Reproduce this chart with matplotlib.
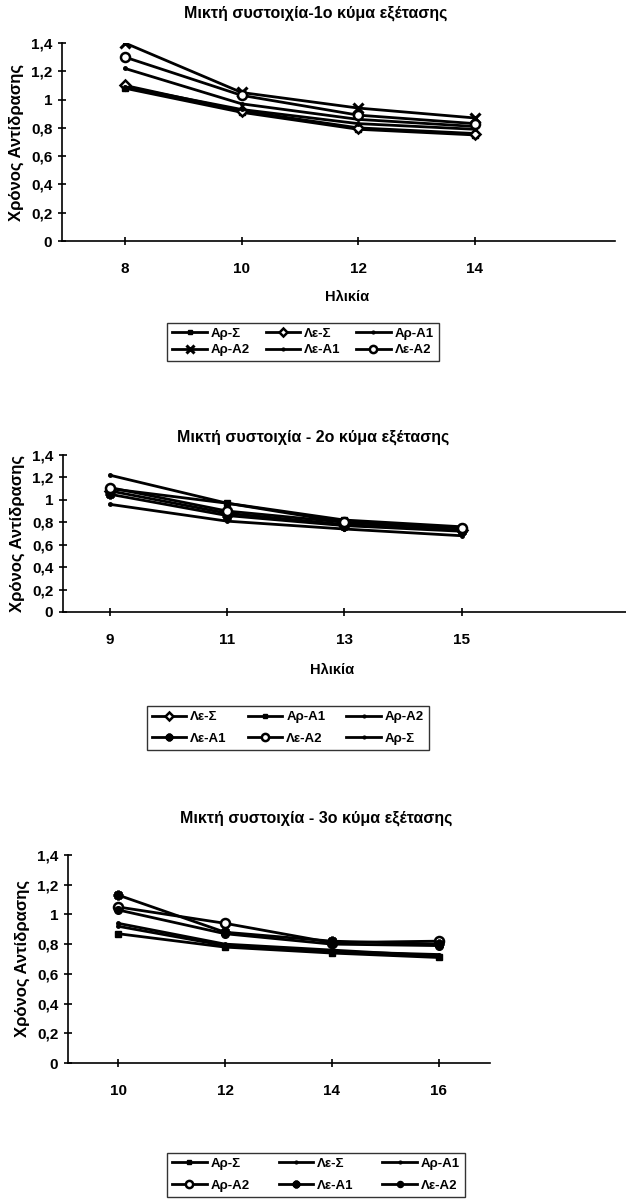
import matplotlib.pyplot as plt
import numpy as np

plt.rcParams['font.family'] = ['Liberation Sans Narrow', 'Liberation Sans', 'DejaVu Sans']
plt.rcParams['font.weight'] = 'bold'

# ==================================================
# Daten
# ==================================================
ages_1 = ["8", "10", "12", "14"]
ages_2 = ["9", "11", "13", "15"]
ages_3 = ["10", "12", "14", "16"]
y_ticks = [0, 0.2, 0.4, 0.6, 0.8, 1.0, 1.2, 1.4]
y_ticklabels = ["0", "0,2", "0,4", "0,6", "0,8", "1", "1,2", "1,4"]

# panel 1
ap_s_1 = [1.08, 0.91, 0.79, 0.75]
le_s_1 = [1.10, 0.92, 0.80, 0.76]
ap_a1_1 = [1.09, 0.93, 0.83, 0.79]
ap_a2_1 = [1.40, 1.05, 0.94, 0.87]
le_a1_1 = [1.22, 0.97, 0.86, 0.81]
le_a2_1 = [1.30, 1.03, 0.89, 0.83]

# panel 2
le_s_2 = [1.08, 0.88, 0.78, 0.73]
ap_a1_2 = [1.10, 0.97, 0.82, 0.76]
ap_a2_2 = [1.22, 0.97, 0.80, 0.75]
le_a1_2 = [1.05, 0.86, 0.77, 0.72]
le_a2_2 = [1.11, 0.90, 0.80, 0.75]
ap_s_2 = [0.96, 0.81, 0.74, 0.68]

# panel 3
ap_s_3 = [0.87, 0.78, 0.74, 0.71]
le_s_3 = [0.94, 0.80, 0.76, 0.72]
ap_a1_3 = [0.92, 0.79, 0.75, 0.73]
ap_a2_3 = [1.05, 0.94, 0.81, 0.82]
le_a1_3 = [1.13, 0.88, 0.82, 0.80]
le_a2_3 = [1.03, 0.87, 0.80, 0.79]

STYLES = {
    "sq": dict(marker="s", ms=4, mfc="black"),
    "dia": dict(marker="D", ms=5.5, mfc="white", mew=1.8),
    "dot": dict(marker=".", ms=5, mfc="black"),
    "x": dict(marker="x", ms=7, mew=2.2),
    "star": dict(marker=(8, 2, 0), ms=7, mew=2.0),
    "circ": dict(marker="o", ms=6.5, mfc="white", mew=1.8),
    "circf": dict(marker="o", ms=5.5, mfc="black"),
}


def draw_panel(ax, cats, series, xlim):
    x = np.arange(len(cats))
    handles = []
    for label, vals, st in series:
        h, = ax.plot(x, vals, color="black", lw=2.0, mec="black", label=label, **STYLES[st])
        handles.append(h)
    ax.set_xlim(*xlim)
    ax.set_ylim(0, 1.4)
    ax.set_yticks(y_ticks)
    ax.set_yticklabels(y_ticklabels, fontsize=11, fontweight="bold")
    ax.set_xticks(x)
    ax.set_xticklabels(cats, fontsize=11, fontweight="bold")
    for s in ["top", "right"]:
        ax.spines[s].set_visible(False)
    ax.spines["left"].set_linewidth(1.2)
    ax.spines["bottom"].set_linewidth(1.2)
    ax.tick_params(axis="y", direction="inout", length=6, width=1.2, pad=4)
    ax.tick_params(axis="x", direction="inout", length=6, width=1.2, pad=12)
    ax.set_ylabel("Χρόνος Αντίδρασης", fontsize=12, fontweight="bold", labelpad=5)
    return handles


def row_major(handles):
    # 2 rows x 3 cols, matplotlib fills column by column
    return [handles[i] for i in [0, 3, 1, 4, 2, 5]]


def add_legend(handles, anchor, loc, colsp, labsp):
    hs = row_major(handles)
    leg = fig.legend(hs, [h.get_label() for h in hs], ncol=3, loc=loc, bbox_to_anchor=anchor,
                     fontsize=9.5, frameon=True, fancybox=False, edgecolor="black",
                     handlelength=2.6, columnspacing=colsp, handletextpad=0.3,
                     borderpad=0.4, labelspacing=labsp, markerscale=0.8)
    leg.get_frame().set_linewidth(1.0)


fig = plt.figure(figsize=(6.26, 12.04), dpi=100)

# ==================================================
# Panel 1
# ==================================================
ax1 = fig.add_axes([0.099, 0.7998, 0.883, 0.1645])
h1 = draw_panel(ax1, ages_1, [
    ("Αρ-Σ", ap_s_1, "sq"), ("Λε-Σ", le_s_1, "dia"), ("Αρ-Α1", ap_a1_1, "dot"),
    ("Αρ-Α2", ap_a2_1, "x"), ("Λε-Α1", le_a1_1, "dot"), ("Λε-Α2", le_a2_1, "circ"),
], (-0.54, 4.2))
fig.text(0.505, 1 - 13 / 1204, "Μικτή συστοιχία-1ο κύμα εξέτασης", ha="center", va="center",
         fontsize=11.5, fontweight="bold")
fig.text(0.555, 1 - 297 / 1204, "Ηλικία", ha="center", va="center", fontsize=10.5, fontweight="bold")
add_legend(h1, (303 / 626, 1 - 342 / 1204), "center", 1.2, 0.3)

# ==================================================
# Panel 2
# ==================================================
ax2 = fig.add_axes([0.1006, 0.4917, 0.899, 0.1304])
h2 = draw_panel(ax2, ages_2, [
    ("Λε-Σ", le_s_2, "dia"), ("Αρ-Α1", ap_a1_2, "sq"), ("Αρ-Α2", ap_a2_2, "dot"),
    ("Λε-Α1", le_a1_2, "star"), ("Λε-Α2", le_a2_2, "circ"), ("Αρ-Σ", ap_s_2, "dot"),
], (-0.40, 4.4))
fig.text(0.50, 1 - 437 / 1204, "Μικτή συστοιχία - 2ο κύμα εξέτασης", ha="center", va="center",
         fontsize=11.5, fontweight="bold")
fig.text(0.53, 1 - 670 / 1204, "Ηλικία", ha="center", va="center", fontsize=10.5, fontweight="bold")
add_legend(h2, (288 / 626, 1 - 728 / 1204), "center", 1.6, 0.7)

# ==================================================
# Panel 3
# ==================================================
ax3 = fig.add_axes([0.1086, 0.1171, 0.674, 0.1728])
h3 = draw_panel(ax3, ages_3, [
    ("Αρ-Σ", ap_s_3, "sq"), ("Λε-Σ", le_s_3, "dot"), ("Αρ-Α1", ap_a1_3, "dot"),
    ("Αρ-Α2", ap_a2_3, "circ"), ("Λε-Α1", le_a1_3, "star"), ("Λε-Α2", le_a2_3, "circf"),
], (-0.47, 3.48))
fig.text(0.505, 1 - 818 / 1204, "Μικτή συστοιχία - 3ο κύμα εξέτασης", ha="center", va="center",
         fontsize=11.5, fontweight="bold")
add_legend(h3, (316 / 626, 1 - 1146 / 1204), "upper center", 2.2, 0.7)

plt.savefig("out.png", dpi=100)
